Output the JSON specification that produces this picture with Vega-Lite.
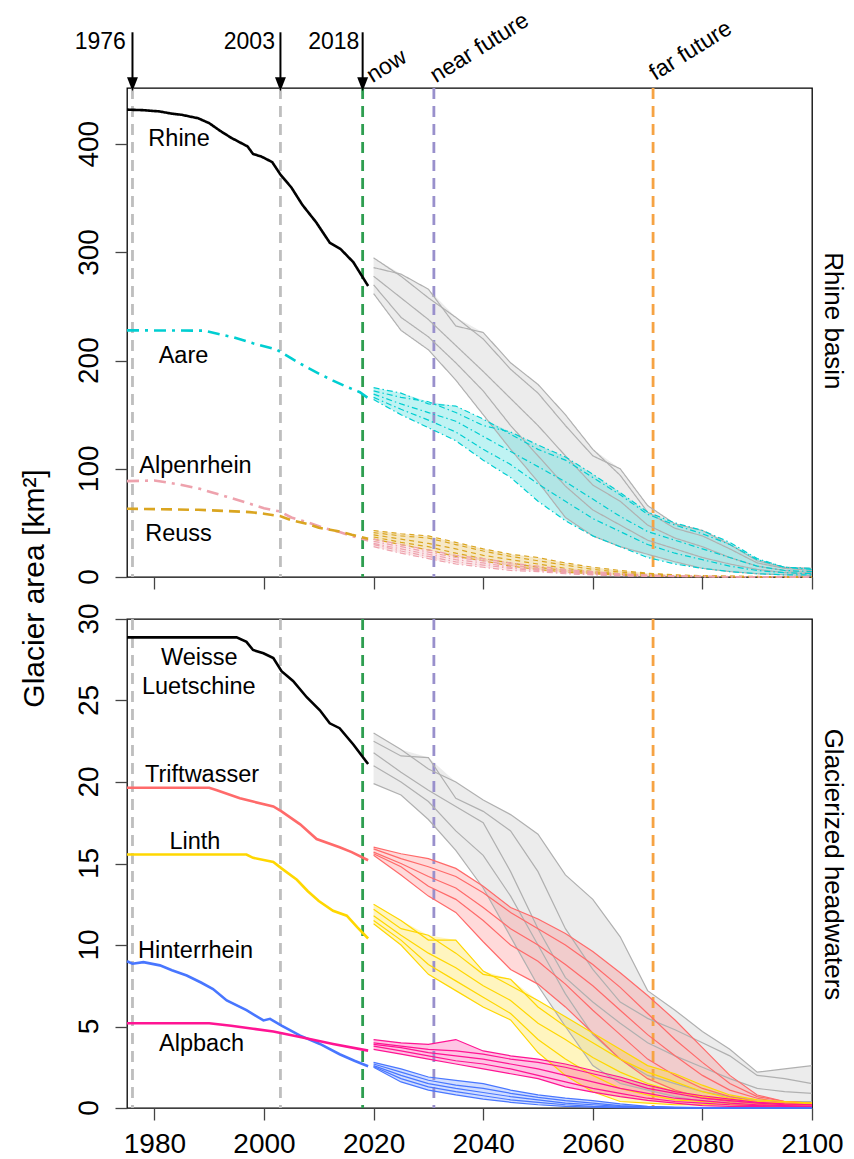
{
"$schema":"https://vega.github.io/schema/vega-lite/v6.json",
"padding":{"left":18,"top":8,"right":5,"bottom":5},
"spacing":42,
"bounds":"flush",
"config":{"font":"Liberation Sans","view":{"stroke":"#000","strokeWidth":1.3},
"axis":{"grid":false,"domain":false,"tickColor":"#444","tickWidth":1.3,"tickSize":12,"labelColor":"#000","labelFontSize":28,"labelFont":"Liberation Sans","titleColor":"#000","titleFontWeight":"normal","titleFont":"Liberation Sans"},
"text":{"font":"Liberation Sans","color":"#000"},"line":{"strokeCap":"butt"}},
"datasets":{
"vl":[{"t":1976,"c":"g"},{"t":2003,"c":"g"},{"t":2018,"c":"now"},{"t":2031,"c":"near"},{"t":2071,"c":"far"}],
"histTop":[
{"k":"Rh","t":1975,"v":432},{"k":"Rh","t":1978,"v":431.5},{"k":"Rh","t":1981,"v":430.3},{"k":"Rh","t":1983,"v":428.4},{"k":"Rh","t":1985,"v":427.2},{"k":"Rh","t":1988,"v":424},{"k":"Rh","t":1990,"v":419.5},{"k":"Rh","t":1992,"v":412.4},{"k":"Rh","t":1994,"v":406},{"k":"Rh","t":1997,"v":398},{"k":"Rh","t":1998,"v":391},{"k":"Rh","t":1999.5,"v":388.7},{"k":"Rh","t":2001.5,"v":383.5},{"k":"Rh","t":2003,"v":372},{"k":"Rh","t":2005,"v":360},{"k":"Rh","t":2007,"v":344},{"k":"Rh","t":2009.5,"v":328},{"k":"Rh","t":2012,"v":309},{"k":"Rh","t":2014,"v":303},{"k":"Rh","t":2016.3,"v":291},{"k":"Rh","t":2019,"v":269},
{"k":"Aa","t":1975,"v":228},{"k":"Aa","t":1989,"v":227.7},{"k":"Aa","t":1994.4,"v":221.6},{"k":"Aa","t":1998,"v":216},{"k":"Aa","t":2002.3,"v":210.2},{"k":"Aa","t":2005,"v":202},{"k":"Aa","t":2007.8,"v":193.9},{"k":"Aa","t":2010,"v":188},{"k":"Aa","t":2012.6,"v":181.5},{"k":"Aa","t":2015,"v":176},{"k":"Aa","t":2017.5,"v":170.8},{"k":"Aa","t":2019,"v":165.3},
{"k":"Al","t":1975,"v":88.6},{"k":"Al","t":1980,"v":89.2},{"k":"Al","t":1984,"v":86},{"k":"Al","t":1988.3,"v":81.5},{"k":"Al","t":1993,"v":74.5},{"k":"Al","t":1997.4,"v":67.7},{"k":"Al","t":2000,"v":63.5},{"k":"Al","t":2002.9,"v":60.6},{"k":"Al","t":2005,"v":55},{"k":"Al","t":2007.8,"v":50.8},{"k":"Al","t":2010.5,"v":46},{"k":"Al","t":2013.8,"v":41.5},{"k":"Al","t":2016,"v":38},{"k":"Al","t":2019,"v":33.8},
{"k":"Re","t":1975,"v":63.1},{"k":"Re","t":1988,"v":62.1},{"k":"Re","t":1997.4,"v":60},{"k":"Re","t":2000,"v":58.5},{"k":"Re","t":2002.9,"v":56.3},{"k":"Re","t":2005,"v":52.5},{"k":"Re","t":2007.8,"v":49.2},{"k":"Re","t":2010,"v":45.5},{"k":"Re","t":2013.8,"v":42.1},{"k":"Re","t":2016,"v":39},{"k":"Re","t":2019,"v":35.4}
],
"projTop":[
{"k":"Rh","m":1,"t":2020,"v":295},{"k":"Rh","m":1,"t":2025,"v":278},{"k":"Rh","m":1,"t":2030,"v":258},{"k":"Rh","m":1,"t":2035,"v":240},{"k":"Rh","m":1,"t":2040,"v":220},{"k":"Rh","m":1,"t":2045,"v":192},{"k":"Rh","m":1,"t":2050,"v":170},{"k":"Rh","m":1,"t":2055,"v":140},{"k":"Rh","m":1,"t":2060,"v":112},{"k":"Rh","m":1,"t":2065,"v":100},{"k":"Rh","m":1,"t":2070,"v":66},{"k":"Rh","m":1,"t":2075,"v":49},{"k":"Rh","m":1,"t":2080,"v":43},{"k":"Rh","m":1,"t":2085,"v":30},{"k":"Rh","m":1,"t":2090,"v":15},{"k":"Rh","m":1,"t":2095,"v":9},{"k":"Rh","m":1,"t":2100,"v":8},
{"k":"Rh","m":2,"t":2020,"v":286},{"k":"Rh","m":2,"t":2025,"v":280},{"k":"Rh","m":2,"t":2030,"v":266},{"k":"Rh","m":2,"t":2035,"v":232},{"k":"Rh","m":2,"t":2040,"v":226},{"k":"Rh","m":2,"t":2045,"v":198},{"k":"Rh","m":2,"t":2050,"v":178},{"k":"Rh","m":2,"t":2055,"v":150},{"k":"Rh","m":2,"t":2060,"v":118},{"k":"Rh","m":2,"t":2065,"v":94},{"k":"Rh","m":2,"t":2070,"v":60},{"k":"Rh","m":2,"t":2075,"v":45},{"k":"Rh","m":2,"t":2080,"v":38},{"k":"Rh","m":2,"t":2085,"v":26},{"k":"Rh","m":2,"t":2090,"v":13},{"k":"Rh","m":2,"t":2095,"v":8},{"k":"Rh","m":2,"t":2100,"v":6},
{"k":"Rh","m":3,"t":2020,"v":278},{"k":"Rh","m":3,"t":2025,"v":258},{"k":"Rh","m":3,"t":2030,"v":238},{"k":"Rh","m":3,"t":2035,"v":214},{"k":"Rh","m":3,"t":2040,"v":190},{"k":"Rh","m":3,"t":2045,"v":165},{"k":"Rh","m":3,"t":2050,"v":140},{"k":"Rh","m":3,"t":2055,"v":112},{"k":"Rh","m":3,"t":2060,"v":85},{"k":"Rh","m":3,"t":2065,"v":70},{"k":"Rh","m":3,"t":2070,"v":48},{"k":"Rh","m":3,"t":2075,"v":36},{"k":"Rh","m":3,"t":2080,"v":28},{"k":"Rh","m":3,"t":2085,"v":18},{"k":"Rh","m":3,"t":2090,"v":10},{"k":"Rh","m":3,"t":2095,"v":6},{"k":"Rh","m":3,"t":2100,"v":4},
{"k":"Rh","m":4,"t":2020,"v":270},{"k":"Rh","m":4,"t":2025,"v":240},{"k":"Rh","m":4,"t":2030,"v":222},{"k":"Rh","m":4,"t":2035,"v":198},{"k":"Rh","m":4,"t":2040,"v":172},{"k":"Rh","m":4,"t":2045,"v":140},{"k":"Rh","m":4,"t":2050,"v":112},{"k":"Rh","m":4,"t":2055,"v":84},{"k":"Rh","m":4,"t":2060,"v":62},{"k":"Rh","m":4,"t":2065,"v":48},{"k":"Rh","m":4,"t":2070,"v":34},{"k":"Rh","m":4,"t":2075,"v":26},{"k":"Rh","m":4,"t":2080,"v":18},{"k":"Rh","m":4,"t":2085,"v":12},{"k":"Rh","m":4,"t":2090,"v":7},{"k":"Rh","m":4,"t":2095,"v":4},{"k":"Rh","m":4,"t":2100,"v":3},
{"k":"Rh","m":5,"t":2020,"v":262},{"k":"Rh","m":5,"t":2025,"v":228},{"k":"Rh","m":5,"t":2030,"v":210},{"k":"Rh","m":5,"t":2035,"v":182},{"k":"Rh","m":5,"t":2040,"v":150},{"k":"Rh","m":5,"t":2045,"v":118},{"k":"Rh","m":5,"t":2050,"v":88},{"k":"Rh","m":5,"t":2055,"v":55},{"k":"Rh","m":5,"t":2060,"v":38},{"k":"Rh","m":5,"t":2065,"v":28},{"k":"Rh","m":5,"t":2070,"v":21},{"k":"Rh","m":5,"t":2075,"v":14},{"k":"Rh","m":5,"t":2080,"v":8},{"k":"Rh","m":5,"t":2085,"v":5},{"k":"Rh","m":5,"t":2090,"v":3},{"k":"Rh","m":5,"t":2095,"v":2},{"k":"Rh","m":5,"t":2100,"v":1.5},
{"k":"Aa","m":1,"t":2020,"v":175},{"k":"Aa","m":1,"t":2025,"v":170},{"k":"Aa","m":1,"t":2030,"v":160},{"k":"Aa","m":1,"t":2035,"v":158},{"k":"Aa","m":1,"t":2040,"v":146},{"k":"Aa","m":1,"t":2045,"v":132},{"k":"Aa","m":1,"t":2050,"v":118},{"k":"Aa","m":1,"t":2055,"v":108},{"k":"Aa","m":1,"t":2060,"v":92},{"k":"Aa","m":1,"t":2065,"v":76},{"k":"Aa","m":1,"t":2070,"v":58},{"k":"Aa","m":1,"t":2075,"v":48},{"k":"Aa","m":1,"t":2080,"v":40},{"k":"Aa","m":1,"t":2085,"v":30},{"k":"Aa","m":1,"t":2090,"v":16},{"k":"Aa","m":1,"t":2095,"v":9},{"k":"Aa","m":1,"t":2100,"v":8},
{"k":"Aa","m":2,"t":2020,"v":172},{"k":"Aa","m":2,"t":2025,"v":166},{"k":"Aa","m":2,"t":2030,"v":162},{"k":"Aa","m":2,"t":2035,"v":152},{"k":"Aa","m":2,"t":2040,"v":140},{"k":"Aa","m":2,"t":2045,"v":134},{"k":"Aa","m":2,"t":2050,"v":122},{"k":"Aa","m":2,"t":2055,"v":111},{"k":"Aa","m":2,"t":2060,"v":95},{"k":"Aa","m":2,"t":2065,"v":78},{"k":"Aa","m":2,"t":2070,"v":60},{"k":"Aa","m":2,"t":2075,"v":50},{"k":"Aa","m":2,"t":2080,"v":43},{"k":"Aa","m":2,"t":2085,"v":32},{"k":"Aa","m":2,"t":2090,"v":17},{"k":"Aa","m":2,"t":2095,"v":9},{"k":"Aa","m":2,"t":2100,"v":7},
{"k":"Aa","m":3,"t":2020,"v":169},{"k":"Aa","m":3,"t":2025,"v":160},{"k":"Aa","m":3,"t":2030,"v":152},{"k":"Aa","m":3,"t":2035,"v":144},{"k":"Aa","m":3,"t":2040,"v":130},{"k":"Aa","m":3,"t":2045,"v":116},{"k":"Aa","m":3,"t":2050,"v":102},{"k":"Aa","m":3,"t":2055,"v":88},{"k":"Aa","m":3,"t":2060,"v":72},{"k":"Aa","m":3,"t":2065,"v":56},{"k":"Aa","m":3,"t":2070,"v":42},{"k":"Aa","m":3,"t":2075,"v":34},{"k":"Aa","m":3,"t":2080,"v":26},{"k":"Aa","m":3,"t":2085,"v":18},{"k":"Aa","m":3,"t":2090,"v":10},{"k":"Aa","m":3,"t":2095,"v":6},{"k":"Aa","m":3,"t":2100,"v":5},
{"k":"Aa","m":4,"t":2020,"v":166},{"k":"Aa","m":4,"t":2025,"v":155},{"k":"Aa","m":4,"t":2030,"v":145},{"k":"Aa","m":4,"t":2035,"v":134},{"k":"Aa","m":4,"t":2040,"v":118},{"k":"Aa","m":4,"t":2045,"v":104},{"k":"Aa","m":4,"t":2050,"v":86},{"k":"Aa","m":4,"t":2055,"v":70},{"k":"Aa","m":4,"t":2060,"v":54},{"k":"Aa","m":4,"t":2065,"v":42},{"k":"Aa","m":4,"t":2070,"v":30},{"k":"Aa","m":4,"t":2075,"v":22},{"k":"Aa","m":4,"t":2080,"v":16},{"k":"Aa","m":4,"t":2085,"v":10},{"k":"Aa","m":4,"t":2090,"v":6},{"k":"Aa","m":4,"t":2095,"v":4},{"k":"Aa","m":4,"t":2100,"v":3},
{"k":"Aa","m":5,"t":2020,"v":164},{"k":"Aa","m":5,"t":2025,"v":150},{"k":"Aa","m":5,"t":2030,"v":138},{"k":"Aa","m":5,"t":2035,"v":126},{"k":"Aa","m":5,"t":2040,"v":108},{"k":"Aa","m":5,"t":2045,"v":92},{"k":"Aa","m":5,"t":2050,"v":70},{"k":"Aa","m":5,"t":2055,"v":52},{"k":"Aa","m":5,"t":2060,"v":38},{"k":"Aa","m":5,"t":2065,"v":28},{"k":"Aa","m":5,"t":2070,"v":18},{"k":"Aa","m":5,"t":2075,"v":12},{"k":"Aa","m":5,"t":2080,"v":8},{"k":"Aa","m":5,"t":2085,"v":5},{"k":"Aa","m":5,"t":2090,"v":3},{"k":"Aa","m":5,"t":2095,"v":2},{"k":"Aa","m":5,"t":2100,"v":2},
{"k":"Re","m":1,"t":2020,"v":43},{"k":"Re","m":1,"t":2025,"v":40},{"k":"Re","m":1,"t":2030,"v":38},{"k":"Re","m":1,"t":2035,"v":32},{"k":"Re","m":1,"t":2040,"v":26},{"k":"Re","m":1,"t":2045,"v":21},{"k":"Re","m":1,"t":2050,"v":18},{"k":"Re","m":1,"t":2055,"v":13},{"k":"Re","m":1,"t":2060,"v":9},{"k":"Re","m":1,"t":2065,"v":6},{"k":"Re","m":1,"t":2070,"v":3.5},{"k":"Re","m":1,"t":2075,"v":2},{"k":"Re","m":1,"t":2080,"v":1.2},{"k":"Re","m":1,"t":2085,"v":0.8},{"k":"Re","m":1,"t":2090,"v":0.5},{"k":"Re","m":1,"t":2095,"v":0.4},{"k":"Re","m":1,"t":2100,"v":0.3},
{"k":"Re","m":2,"t":2020,"v":41},{"k":"Re","m":2,"t":2025,"v":38},{"k":"Re","m":2,"t":2030,"v":36},{"k":"Re","m":2,"t":2035,"v":30},{"k":"Re","m":2,"t":2040,"v":24},{"k":"Re","m":2,"t":2045,"v":19},{"k":"Re","m":2,"t":2050,"v":15},{"k":"Re","m":2,"t":2055,"v":11},{"k":"Re","m":2,"t":2060,"v":7},{"k":"Re","m":2,"t":2065,"v":4.5},{"k":"Re","m":2,"t":2070,"v":3},{"k":"Re","m":2,"t":2075,"v":1.5},{"k":"Re","m":2,"t":2080,"v":1},{"k":"Re","m":2,"t":2085,"v":0.6},{"k":"Re","m":2,"t":2090,"v":0.4},{"k":"Re","m":2,"t":2095,"v":0.3},{"k":"Re","m":2,"t":2100,"v":0.2},
{"k":"Re","m":3,"t":2020,"v":39},{"k":"Re","m":3,"t":2025,"v":35},{"k":"Re","m":3,"t":2030,"v":31},{"k":"Re","m":3,"t":2035,"v":26},{"k":"Re","m":3,"t":2040,"v":20},{"k":"Re","m":3,"t":2045,"v":16},{"k":"Re","m":3,"t":2050,"v":12},{"k":"Re","m":3,"t":2055,"v":8},{"k":"Re","m":3,"t":2060,"v":5},{"k":"Re","m":3,"t":2065,"v":3},{"k":"Re","m":3,"t":2070,"v":2},{"k":"Re","m":3,"t":2075,"v":1},{"k":"Re","m":3,"t":2080,"v":0.6},{"k":"Re","m":3,"t":2085,"v":0.4},{"k":"Re","m":3,"t":2090,"v":0.3},{"k":"Re","m":3,"t":2095,"v":0.2},{"k":"Re","m":3,"t":2100,"v":0.1},
{"k":"Re","m":4,"t":2020,"v":37},{"k":"Re","m":4,"t":2025,"v":32},{"k":"Re","m":4,"t":2030,"v":28},{"k":"Re","m":4,"t":2035,"v":22},{"k":"Re","m":4,"t":2040,"v":17},{"k":"Re","m":4,"t":2045,"v":13},{"k":"Re","m":4,"t":2050,"v":9},{"k":"Re","m":4,"t":2055,"v":6},{"k":"Re","m":4,"t":2060,"v":4},{"k":"Re","m":4,"t":2065,"v":2.5},{"k":"Re","m":4,"t":2070,"v":1.5},{"k":"Re","m":4,"t":2075,"v":0.8},{"k":"Re","m":4,"t":2080,"v":0.5},{"k":"Re","m":4,"t":2085,"v":0.3},{"k":"Re","m":4,"t":2090,"v":0.2},{"k":"Re","m":4,"t":2095,"v":0.1},{"k":"Re","m":4,"t":2100,"v":0.1},
{"k":"Re","m":5,"t":2020,"v":35},{"k":"Re","m":5,"t":2025,"v":30},{"k":"Re","m":5,"t":2030,"v":25},{"k":"Re","m":5,"t":2035,"v":19},{"k":"Re","m":5,"t":2040,"v":15},{"k":"Re","m":5,"t":2045,"v":10},{"k":"Re","m":5,"t":2050,"v":7},{"k":"Re","m":5,"t":2055,"v":4.5},{"k":"Re","m":5,"t":2060,"v":3},{"k":"Re","m":5,"t":2065,"v":1.8},{"k":"Re","m":5,"t":2070,"v":1},{"k":"Re","m":5,"t":2075,"v":0.5},{"k":"Re","m":5,"t":2080,"v":0.3},{"k":"Re","m":5,"t":2085,"v":0.2},{"k":"Re","m":5,"t":2090,"v":0.1},{"k":"Re","m":5,"t":2095,"v":0.1},{"k":"Re","m":5,"t":2100,"v":0.1},
{"k":"Al","m":1,"t":2020,"v":35},{"k":"Al","m":1,"t":2025,"v":30},{"k":"Al","m":1,"t":2030,"v":25},{"k":"Al","m":1,"t":2035,"v":20},{"k":"Al","m":1,"t":2040,"v":17},{"k":"Al","m":1,"t":2045,"v":13},{"k":"Al","m":1,"t":2050,"v":10},{"k":"Al","m":1,"t":2055,"v":7},{"k":"Al","m":1,"t":2060,"v":5},{"k":"Al","m":1,"t":2065,"v":3},{"k":"Al","m":1,"t":2070,"v":2},{"k":"Al","m":1,"t":2075,"v":1.2},{"k":"Al","m":1,"t":2080,"v":0.8},{"k":"Al","m":1,"t":2085,"v":0.5},{"k":"Al","m":1,"t":2090,"v":0.3},{"k":"Al","m":1,"t":2095,"v":0.2},{"k":"Al","m":1,"t":2100,"v":0.2},
{"k":"Al","m":2,"t":2020,"v":33},{"k":"Al","m":2,"t":2025,"v":28},{"k":"Al","m":2,"t":2030,"v":23},{"k":"Al","m":2,"t":2035,"v":18},{"k":"Al","m":2,"t":2040,"v":15},{"k":"Al","m":2,"t":2045,"v":11},{"k":"Al","m":2,"t":2050,"v":8},{"k":"Al","m":2,"t":2055,"v":6},{"k":"Al","m":2,"t":2060,"v":4},{"k":"Al","m":2,"t":2065,"v":2.5},{"k":"Al","m":2,"t":2070,"v":1.5},{"k":"Al","m":2,"t":2075,"v":1},{"k":"Al","m":2,"t":2080,"v":0.6},{"k":"Al","m":2,"t":2085,"v":0.4},{"k":"Al","m":2,"t":2090,"v":0.3},{"k":"Al","m":2,"t":2095,"v":0.2},{"k":"Al","m":2,"t":2100,"v":0.1},
{"k":"Al","m":3,"t":2020,"v":31},{"k":"Al","m":3,"t":2025,"v":26},{"k":"Al","m":3,"t":2030,"v":21},{"k":"Al","m":3,"t":2035,"v":16},{"k":"Al","m":3,"t":2040,"v":13},{"k":"Al","m":3,"t":2045,"v":9},{"k":"Al","m":3,"t":2050,"v":7},{"k":"Al","m":3,"t":2055,"v":5},{"k":"Al","m":3,"t":2060,"v":3},{"k":"Al","m":3,"t":2065,"v":2},{"k":"Al","m":3,"t":2070,"v":1.2},{"k":"Al","m":3,"t":2075,"v":0.8},{"k":"Al","m":3,"t":2080,"v":0.5},{"k":"Al","m":3,"t":2085,"v":0.3},{"k":"Al","m":3,"t":2090,"v":0.2},{"k":"Al","m":3,"t":2095,"v":0.1},{"k":"Al","m":3,"t":2100,"v":0.1},
{"k":"Al","m":4,"t":2020,"v":30},{"k":"Al","m":4,"t":2025,"v":24},{"k":"Al","m":4,"t":2030,"v":19},{"k":"Al","m":4,"t":2035,"v":14},{"k":"Al","m":4,"t":2040,"v":11},{"k":"Al","m":4,"t":2045,"v":8},{"k":"Al","m":4,"t":2050,"v":6},{"k":"Al","m":4,"t":2055,"v":4},{"k":"Al","m":4,"t":2060,"v":2.5},{"k":"Al","m":4,"t":2065,"v":1.5},{"k":"Al","m":4,"t":2070,"v":1},{"k":"Al","m":4,"t":2075,"v":0.6},{"k":"Al","m":4,"t":2080,"v":0.4},{"k":"Al","m":4,"t":2085,"v":0.2},{"k":"Al","m":4,"t":2090,"v":0.1},{"k":"Al","m":4,"t":2095,"v":0.1},{"k":"Al","m":4,"t":2100,"v":0.1},
{"k":"Al","m":5,"t":2020,"v":28},{"k":"Al","m":5,"t":2025,"v":22},{"k":"Al","m":5,"t":2030,"v":17},{"k":"Al","m":5,"t":2035,"v":12},{"k":"Al","m":5,"t":2040,"v":9},{"k":"Al","m":5,"t":2045,"v":6},{"k":"Al","m":5,"t":2050,"v":5},{"k":"Al","m":5,"t":2055,"v":3},{"k":"Al","m":5,"t":2060,"v":2},{"k":"Al","m":5,"t":2065,"v":1},{"k":"Al","m":5,"t":2070,"v":0.6},{"k":"Al","m":5,"t":2075,"v":0.4},{"k":"Al","m":5,"t":2080,"v":0.2},{"k":"Al","m":5,"t":2085,"v":0.1},{"k":"Al","m":5,"t":2090,"v":0.1},{"k":"Al","m":5,"t":2095,"v":0.1},{"k":"Al","m":5,"t":2100,"v":0}
],
"histBot":[
{"k":"WL","t":1975,"v":28.87},{"k":"WL","t":1995,"v":28.87},{"k":"WL","t":1996.8,"v":28.6},{"k":"WL","t":1998,"v":28.1},{"k":"WL","t":1999.9,"v":27.9},{"k":"WL","t":2001.7,"v":27.6},{"k":"WL","t":2003.2,"v":26.8},{"k":"WL","t":2005.3,"v":26.2},{"k":"WL","t":2007.8,"v":25.2},{"k":"WL","t":2010.2,"v":24.4},{"k":"WL","t":2012,"v":23.6},{"k":"WL","t":2013.8,"v":23.3},{"k":"WL","t":2016.3,"v":22.3},{"k":"WL","t":2019,"v":21.1},
{"k":"Tr","t":1975,"v":19.65},{"k":"Tr","t":1990,"v":19.65},{"k":"Tr","t":1991.4,"v":19.5},{"k":"Tr","t":1995.6,"v":19.0},{"k":"Tr","t":1998,"v":18.8},{"k":"Tr","t":2001.7,"v":18.5},{"k":"Tr","t":2003.2,"v":18.2},{"k":"Tr","t":2006.6,"v":17.4},{"k":"Tr","t":2009.6,"v":16.5},{"k":"Tr","t":2013.8,"v":16.0},{"k":"Tr","t":2016,"v":15.7},{"k":"Tr","t":2019,"v":15.2},
{"k":"Li","t":1975,"v":15.55},{"k":"Li","t":1996.8,"v":15.55},{"k":"Li","t":1998,"v":15.35},{"k":"Li","t":2001.7,"v":15.1},{"k":"Li","t":2003.2,"v":14.7},{"k":"Li","t":2006,"v":14.0},{"k":"Li","t":2008,"v":13.3},{"k":"Li","t":2010,"v":12.7},{"k":"Li","t":2012.6,"v":12.1},{"k":"Li","t":2015.1,"v":11.8},{"k":"Li","t":2017,"v":11.1},{"k":"Li","t":2019,"v":10.4},
{"k":"Hi","t":1975,"v":9.0},{"k":"Hi","t":1976,"v":8.85},{"k":"Hi","t":1978,"v":8.95},{"k":"Hi","t":1981,"v":8.75},{"k":"Hi","t":1983.2,"v":8.45},{"k":"Hi","t":1985.9,"v":8.13},{"k":"Hi","t":1988.5,"v":7.7},{"k":"Hi","t":1990.7,"v":7.3},{"k":"Hi","t":1993.2,"v":6.6},{"k":"Hi","t":1996.8,"v":6.0},{"k":"Hi","t":1999.9,"v":5.37},{"k":"Hi","t":2001.1,"v":5.47},{"k":"Hi","t":2003.2,"v":5.06},{"k":"Hi","t":2006.6,"v":4.44},{"k":"Hi","t":2010.2,"v":3.93},{"k":"Hi","t":2013.8,"v":3.3},{"k":"Hi","t":2016.5,"v":2.9},{"k":"Hi","t":2019,"v":2.56},
{"k":"Ap","t":1975,"v":5.2},{"k":"Ap","t":1990,"v":5.2},{"k":"Ap","t":1994,"v":5.05},{"k":"Ap","t":1998,"v":4.86},{"k":"Ap","t":2001.7,"v":4.69},{"k":"Ap","t":2006.6,"v":4.35},{"k":"Ap","t":2012.6,"v":3.93},{"k":"Ap","t":2019,"v":3.52}
],
"projBot":[
{"k":"WL","m":1,"t":2020,"v":23.0},{"k":"WL","m":1,"t":2025,"v":22.0},{"k":"WL","m":1,"t":2030,"v":20.8},{"k":"WL","m":1,"t":2035,"v":20.0},{"k":"WL","m":1,"t":2040,"v":18.9},{"k":"WL","m":1,"t":2045,"v":18.0},{"k":"WL","m":1,"t":2050,"v":16.8},{"k":"WL","m":1,"t":2055,"v":14.3},{"k":"WL","m":1,"t":2060,"v":12.8},{"k":"WL","m":1,"t":2065,"v":10.5},{"k":"WL","m":1,"t":2070,"v":7.2},{"k":"WL","m":1,"t":2075,"v":6.0},{"k":"WL","m":1,"t":2080,"v":4.7},{"k":"WL","m":1,"t":2085,"v":3.6},{"k":"WL","m":1,"t":2090,"v":2.2},{"k":"WL","m":1,"t":2095,"v":2.4},{"k":"WL","m":1,"t":2100,"v":2.6},
{"k":"WL","m":2,"t":2020,"v":22.5},{"k":"WL","m":2,"t":2025,"v":21.6},{"k":"WL","m":2,"t":2030,"v":21.5},{"k":"WL","m":2,"t":2035,"v":19.0},{"k":"WL","m":2,"t":2040,"v":18.2},{"k":"WL","m":2,"t":2045,"v":17.0},{"k":"WL","m":2,"t":2050,"v":14.5},{"k":"WL","m":2,"t":2055,"v":11.0},{"k":"WL","m":2,"t":2060,"v":8.5},{"k":"WL","m":2,"t":2065,"v":6.5},{"k":"WL","m":2,"t":2070,"v":5.5},{"k":"WL","m":2,"t":2075,"v":4.8},{"k":"WL","m":2,"t":2080,"v":4.0},{"k":"WL","m":2,"t":2085,"v":3.2},{"k":"WL","m":2,"t":2090,"v":2.0},{"k":"WL","m":2,"t":2095,"v":1.8},{"k":"WL","m":2,"t":2100,"v":1.5},
{"k":"WL","m":3,"t":2020,"v":21.8},{"k":"WL","m":3,"t":2025,"v":20.6},{"k":"WL","m":3,"t":2030,"v":19.5},{"k":"WL","m":3,"t":2035,"v":18.5},{"k":"WL","m":3,"t":2040,"v":17.5},{"k":"WL","m":3,"t":2045,"v":14.5},{"k":"WL","m":3,"t":2050,"v":11.0},{"k":"WL","m":3,"t":2055,"v":8.0},{"k":"WL","m":3,"t":2060,"v":6.5},{"k":"WL","m":3,"t":2065,"v":5.2},{"k":"WL","m":3,"t":2070,"v":4.0},{"k":"WL","m":3,"t":2075,"v":3.2},{"k":"WL","m":3,"t":2080,"v":2.5},{"k":"WL","m":3,"t":2085,"v":1.8},{"k":"WL","m":3,"t":2090,"v":1.2},{"k":"WL","m":3,"t":2095,"v":1.0},{"k":"WL","m":3,"t":2100,"v":0.9},
{"k":"WL","m":4,"t":2020,"v":21.0},{"k":"WL","m":4,"t":2025,"v":20.0},{"k":"WL","m":4,"t":2030,"v":18.8},{"k":"WL","m":4,"t":2035,"v":17.0},{"k":"WL","m":4,"t":2040,"v":15.5},{"k":"WL","m":4,"t":2045,"v":13.0},{"k":"WL","m":4,"t":2050,"v":10.0},{"k":"WL","m":4,"t":2055,"v":7.0},{"k":"WL","m":4,"t":2060,"v":4.5},{"k":"WL","m":4,"t":2065,"v":3.0},{"k":"WL","m":4,"t":2070,"v":2.0},{"k":"WL","m":4,"t":2075,"v":1.5},{"k":"WL","m":4,"t":2080,"v":1.0},{"k":"WL","m":4,"t":2085,"v":0.7},{"k":"WL","m":4,"t":2090,"v":0.5},{"k":"WL","m":4,"t":2095,"v":0.4},{"k":"WL","m":4,"t":2100,"v":0.4},
{"k":"WL","m":5,"t":2020,"v":19.9},{"k":"WL","m":5,"t":2025,"v":19.2},{"k":"WL","m":5,"t":2030,"v":17.7},{"k":"WL","m":5,"t":2035,"v":15.8},{"k":"WL","m":5,"t":2040,"v":13.5},{"k":"WL","m":5,"t":2045,"v":10.5},{"k":"WL","m":5,"t":2050,"v":7.5},{"k":"WL","m":5,"t":2055,"v":5.0},{"k":"WL","m":5,"t":2060,"v":2.6},{"k":"WL","m":5,"t":2065,"v":1.5},{"k":"WL","m":5,"t":2070,"v":1.1},{"k":"WL","m":5,"t":2075,"v":0.7},{"k":"WL","m":5,"t":2080,"v":0.4},{"k":"WL","m":5,"t":2085,"v":0.3},{"k":"WL","m":5,"t":2090,"v":0.2},{"k":"WL","m":5,"t":2095,"v":0.2},{"k":"WL","m":5,"t":2100,"v":0.2},
{"k":"Tr","m":1,"t":2020,"v":16.0},{"k":"Tr","m":1,"t":2025,"v":15.6},{"k":"Tr","m":1,"t":2030,"v":15.3},{"k":"Tr","m":1,"t":2035,"v":14.7},{"k":"Tr","m":1,"t":2040,"v":13.6},{"k":"Tr","m":1,"t":2045,"v":12.3},{"k":"Tr","m":1,"t":2050,"v":11.6},{"k":"Tr","m":1,"t":2055,"v":10.7},{"k":"Tr","m":1,"t":2060,"v":9.6},{"k":"Tr","m":1,"t":2065,"v":8.3},{"k":"Tr","m":1,"t":2070,"v":6.9},{"k":"Tr","m":1,"t":2075,"v":5.4},{"k":"Tr","m":1,"t":2080,"v":3.7},{"k":"Tr","m":1,"t":2085,"v":2.0},{"k":"Tr","m":1,"t":2090,"v":0.8},{"k":"Tr","m":1,"t":2095,"v":0.4},{"k":"Tr","m":1,"t":2100,"v":0.3},
{"k":"Tr","m":2,"t":2020,"v":15.9},{"k":"Tr","m":2,"t":2025,"v":15.3},{"k":"Tr","m":2,"t":2030,"v":14.8},{"k":"Tr","m":2,"t":2035,"v":14.2},{"k":"Tr","m":2,"t":2040,"v":13.2},{"k":"Tr","m":2,"t":2045,"v":12.0},{"k":"Tr","m":2,"t":2050,"v":11.0},{"k":"Tr","m":2,"t":2055,"v":10.0},{"k":"Tr","m":2,"t":2060,"v":8.8},{"k":"Tr","m":2,"t":2065,"v":7.4},{"k":"Tr","m":2,"t":2070,"v":5.8},{"k":"Tr","m":2,"t":2075,"v":4.2},{"k":"Tr","m":2,"t":2080,"v":2.8},{"k":"Tr","m":2,"t":2085,"v":1.5},{"k":"Tr","m":2,"t":2090,"v":0.7},{"k":"Tr","m":2,"t":2095,"v":0.4},{"k":"Tr","m":2,"t":2100,"v":0.3},
{"k":"Tr","m":3,"t":2020,"v":15.7},{"k":"Tr","m":3,"t":2025,"v":15.0},{"k":"Tr","m":3,"t":2030,"v":14.2},{"k":"Tr","m":3,"t":2035,"v":13.5},{"k":"Tr","m":3,"t":2040,"v":12.3},{"k":"Tr","m":3,"t":2045,"v":11.0},{"k":"Tr","m":3,"t":2050,"v":10.0},{"k":"Tr","m":3,"t":2055,"v":8.8},{"k":"Tr","m":3,"t":2060,"v":7.5},{"k":"Tr","m":3,"t":2065,"v":6.0},{"k":"Tr","m":3,"t":2070,"v":4.5},{"k":"Tr","m":3,"t":2075,"v":3.2},{"k":"Tr","m":3,"t":2080,"v":2.0},{"k":"Tr","m":3,"t":2085,"v":1.1},{"k":"Tr","m":3,"t":2090,"v":0.6},{"k":"Tr","m":3,"t":2095,"v":0.3},{"k":"Tr","m":3,"t":2100,"v":0.2},
{"k":"Tr","m":4,"t":2020,"v":15.6},{"k":"Tr","m":4,"t":2025,"v":14.8},{"k":"Tr","m":4,"t":2030,"v":13.6},{"k":"Tr","m":4,"t":2035,"v":12.8},{"k":"Tr","m":4,"t":2040,"v":11.5},{"k":"Tr","m":4,"t":2045,"v":10.0},{"k":"Tr","m":4,"t":2050,"v":9.0},{"k":"Tr","m":4,"t":2055,"v":7.6},{"k":"Tr","m":4,"t":2060,"v":6.0},{"k":"Tr","m":4,"t":2065,"v":4.5},{"k":"Tr","m":4,"t":2070,"v":3.0},{"k":"Tr","m":4,"t":2075,"v":2.0},{"k":"Tr","m":4,"t":2080,"v":1.2},{"k":"Tr","m":4,"t":2085,"v":0.7},{"k":"Tr","m":4,"t":2090,"v":0.4},{"k":"Tr","m":4,"t":2095,"v":0.3},{"k":"Tr","m":4,"t":2100,"v":0.2},
{"k":"Tr","m":5,"t":2020,"v":15.5},{"k":"Tr","m":5,"t":2025,"v":14.3},{"k":"Tr","m":5,"t":2030,"v":13.0},{"k":"Tr","m":5,"t":2035,"v":12.0},{"k":"Tr","m":5,"t":2040,"v":10.2},{"k":"Tr","m":5,"t":2045,"v":8.5},{"k":"Tr","m":5,"t":2050,"v":7.6},{"k":"Tr","m":5,"t":2055,"v":6.2},{"k":"Tr","m":5,"t":2060,"v":4.6},{"k":"Tr","m":5,"t":2065,"v":3.0},{"k":"Tr","m":5,"t":2070,"v":1.8},{"k":"Tr","m":5,"t":2075,"v":1.1},{"k":"Tr","m":5,"t":2080,"v":0.6},{"k":"Tr","m":5,"t":2085,"v":0.4},{"k":"Tr","m":5,"t":2090,"v":0.3},{"k":"Tr","m":5,"t":2095,"v":0.2},{"k":"Tr","m":5,"t":2100,"v":0.2},
{"k":"Li","m":1,"t":2020,"v":12.5},{"k":"Li","m":1,"t":2025,"v":11.5},{"k":"Li","m":1,"t":2030,"v":10.3},{"k":"Li","m":1,"t":2035,"v":10.3},{"k":"Li","m":1,"t":2040,"v":8.4},{"k":"Li","m":1,"t":2045,"v":7.5},{"k":"Li","m":1,"t":2050,"v":6.6},{"k":"Li","m":1,"t":2055,"v":5.6},{"k":"Li","m":1,"t":2060,"v":4.6},{"k":"Li","m":1,"t":2065,"v":3.6},{"k":"Li","m":1,"t":2070,"v":2.6},{"k":"Li","m":1,"t":2075,"v":2.1},{"k":"Li","m":1,"t":2080,"v":1.4},{"k":"Li","m":1,"t":2085,"v":0.8},{"k":"Li","m":1,"t":2090,"v":0.5},{"k":"Li","m":1,"t":2095,"v":0.4},{"k":"Li","m":1,"t":2100,"v":0.3},
{"k":"Li","m":2,"t":2020,"v":12.2},{"k":"Li","m":2,"t":2025,"v":11.0},{"k":"Li","m":2,"t":2030,"v":10.6},{"k":"Li","m":2,"t":2035,"v":9.5},{"k":"Li","m":2,"t":2040,"v":8.2},{"k":"Li","m":2,"t":2045,"v":7.9},{"k":"Li","m":2,"t":2050,"v":6.2},{"k":"Li","m":2,"t":2055,"v":5.0},{"k":"Li","m":2,"t":2060,"v":4.0},{"k":"Li","m":2,"t":2065,"v":3.0},{"k":"Li","m":2,"t":2070,"v":2.2},{"k":"Li","m":2,"t":2075,"v":1.6},{"k":"Li","m":2,"t":2080,"v":1.0},{"k":"Li","m":2,"t":2085,"v":0.6},{"k":"Li","m":2,"t":2090,"v":0.4},{"k":"Li","m":2,"t":2095,"v":0.3},{"k":"Li","m":2,"t":2100,"v":0.3},
{"k":"Li","m":3,"t":2020,"v":11.8},{"k":"Li","m":3,"t":2025,"v":10.6},{"k":"Li","m":3,"t":2030,"v":9.5},{"k":"Li","m":3,"t":2035,"v":8.6},{"k":"Li","m":3,"t":2040,"v":7.5},{"k":"Li","m":3,"t":2045,"v":6.6},{"k":"Li","m":3,"t":2050,"v":5.2},{"k":"Li","m":3,"t":2055,"v":4.2},{"k":"Li","m":3,"t":2060,"v":3.1},{"k":"Li","m":3,"t":2065,"v":2.2},{"k":"Li","m":3,"t":2070,"v":1.5},{"k":"Li","m":3,"t":2075,"v":1.0},{"k":"Li","m":3,"t":2080,"v":0.7},{"k":"Li","m":3,"t":2085,"v":0.5},{"k":"Li","m":3,"t":2090,"v":0.3},{"k":"Li","m":3,"t":2095,"v":0.2},{"k":"Li","m":3,"t":2100,"v":0.2},
{"k":"Li","m":4,"t":2020,"v":11.5},{"k":"Li","m":4,"t":2025,"v":10.3},{"k":"Li","m":4,"t":2030,"v":8.8},{"k":"Li","m":4,"t":2035,"v":7.8},{"k":"Li","m":4,"t":2040,"v":6.8},{"k":"Li","m":4,"t":2045,"v":5.8},{"k":"Li","m":4,"t":2050,"v":4.2},{"k":"Li","m":4,"t":2055,"v":3.0},{"k":"Li","m":4,"t":2060,"v":2.0},{"k":"Li","m":4,"t":2065,"v":1.2},{"k":"Li","m":4,"t":2070,"v":0.8},{"k":"Li","m":4,"t":2075,"v":0.5},{"k":"Li","m":4,"t":2080,"v":0.4},{"k":"Li","m":4,"t":2085,"v":0.3},{"k":"Li","m":4,"t":2090,"v":0.2},{"k":"Li","m":4,"t":2095,"v":0.2},{"k":"Li","m":4,"t":2100,"v":0.1},
{"k":"Li","m":5,"t":2020,"v":11.3},{"k":"Li","m":5,"t":2025,"v":10.0},{"k":"Li","m":5,"t":2030,"v":8.2},{"k":"Li","m":5,"t":2035,"v":7.2},{"k":"Li","m":5,"t":2040,"v":6.2},{"k":"Li","m":5,"t":2045,"v":5.4},{"k":"Li","m":5,"t":2050,"v":3.4},{"k":"Li","m":5,"t":2055,"v":2.0},{"k":"Li","m":5,"t":2060,"v":1.0},{"k":"Li","m":5,"t":2065,"v":0.4},{"k":"Li","m":5,"t":2070,"v":0.3},{"k":"Li","m":5,"t":2075,"v":0.2},{"k":"Li","m":5,"t":2080,"v":0.2},{"k":"Li","m":5,"t":2085,"v":0.2},{"k":"Li","m":5,"t":2090,"v":0.1},{"k":"Li","m":5,"t":2095,"v":0.1},{"k":"Li","m":5,"t":2100,"v":0.1},
{"k":"Ap","m":1,"t":2020,"v":4.2},{"k":"Ap","m":1,"t":2025,"v":4.0},{"k":"Ap","m":1,"t":2030,"v":3.9},{"k":"Ap","m":1,"t":2035,"v":4.2},{"k":"Ap","m":1,"t":2040,"v":3.5},{"k":"Ap","m":1,"t":2045,"v":3.2},{"k":"Ap","m":1,"t":2050,"v":3.0},{"k":"Ap","m":1,"t":2055,"v":2.7},{"k":"Ap","m":1,"t":2060,"v":2.3},{"k":"Ap","m":1,"t":2065,"v":1.9},{"k":"Ap","m":1,"t":2070,"v":1.4},{"k":"Ap","m":1,"t":2075,"v":1.0},{"k":"Ap","m":1,"t":2080,"v":0.75},{"k":"Ap","m":1,"t":2085,"v":0.55},{"k":"Ap","m":1,"t":2090,"v":0.35},{"k":"Ap","m":1,"t":2095,"v":0.25},{"k":"Ap","m":1,"t":2100,"v":0.2},
{"k":"Ap","m":2,"t":2020,"v":4.0},{"k":"Ap","m":2,"t":2025,"v":3.8},{"k":"Ap","m":2,"t":2030,"v":3.6},{"k":"Ap","m":2,"t":2035,"v":3.5},{"k":"Ap","m":2,"t":2040,"v":3.3},{"k":"Ap","m":2,"t":2045,"v":3.0},{"k":"Ap","m":2,"t":2050,"v":2.8},{"k":"Ap","m":2,"t":2055,"v":2.5},{"k":"Ap","m":2,"t":2060,"v":2.1},{"k":"Ap","m":2,"t":2065,"v":1.7},{"k":"Ap","m":2,"t":2070,"v":1.2},{"k":"Ap","m":2,"t":2075,"v":0.9},{"k":"Ap","m":2,"t":2080,"v":0.6},{"k":"Ap","m":2,"t":2085,"v":0.45},{"k":"Ap","m":2,"t":2090,"v":0.3},{"k":"Ap","m":2,"t":2095,"v":0.2},{"k":"Ap","m":2,"t":2100,"v":0.2},
{"k":"Ap","m":3,"t":2020,"v":3.9},{"k":"Ap","m":3,"t":2025,"v":3.7},{"k":"Ap","m":3,"t":2030,"v":3.4},{"k":"Ap","m":3,"t":2035,"v":3.2},{"k":"Ap","m":3,"t":2040,"v":3.0},{"k":"Ap","m":3,"t":2045,"v":2.7},{"k":"Ap","m":3,"t":2050,"v":2.4},{"k":"Ap","m":3,"t":2055,"v":2.0},{"k":"Ap","m":3,"t":2060,"v":1.6},{"k":"Ap","m":3,"t":2065,"v":1.2},{"k":"Ap","m":3,"t":2070,"v":0.9},{"k":"Ap","m":3,"t":2075,"v":0.6},{"k":"Ap","m":3,"t":2080,"v":0.45},{"k":"Ap","m":3,"t":2085,"v":0.3},{"k":"Ap","m":3,"t":2090,"v":0.2},{"k":"Ap","m":3,"t":2095,"v":0.15},{"k":"Ap","m":3,"t":2100,"v":0.1},
{"k":"Ap","m":4,"t":2020,"v":3.8},{"k":"Ap","m":4,"t":2025,"v":3.5},{"k":"Ap","m":4,"t":2030,"v":3.2},{"k":"Ap","m":4,"t":2035,"v":2.9},{"k":"Ap","m":4,"t":2040,"v":2.7},{"k":"Ap","m":4,"t":2045,"v":2.4},{"k":"Ap","m":4,"t":2050,"v":2.0},{"k":"Ap","m":4,"t":2055,"v":1.6},{"k":"Ap","m":4,"t":2060,"v":1.2},{"k":"Ap","m":4,"t":2065,"v":0.9},{"k":"Ap","m":4,"t":2070,"v":0.6},{"k":"Ap","m":4,"t":2075,"v":0.4},{"k":"Ap","m":4,"t":2080,"v":0.3},{"k":"Ap","m":4,"t":2085,"v":0.2},{"k":"Ap","m":4,"t":2090,"v":0.15},{"k":"Ap","m":4,"t":2095,"v":0.1},{"k":"Ap","m":4,"t":2100,"v":0.1},
{"k":"Ap","m":5,"t":2020,"v":3.6},{"k":"Ap","m":5,"t":2025,"v":3.3},{"k":"Ap","m":5,"t":2030,"v":3.0},{"k":"Ap","m":5,"t":2035,"v":2.7},{"k":"Ap","m":5,"t":2040,"v":2.4},{"k":"Ap","m":5,"t":2045,"v":2.1},{"k":"Ap","m":5,"t":2050,"v":1.8},{"k":"Ap","m":5,"t":2055,"v":1.3},{"k":"Ap","m":5,"t":2060,"v":0.97},{"k":"Ap","m":5,"t":2065,"v":0.7},{"k":"Ap","m":5,"t":2070,"v":0.47},{"k":"Ap","m":5,"t":2075,"v":0.3},{"k":"Ap","m":5,"t":2080,"v":0.15},{"k":"Ap","m":5,"t":2085,"v":0.1},{"k":"Ap","m":5,"t":2090,"v":0.1},{"k":"Ap","m":5,"t":2095,"v":0.05},{"k":"Ap","m":5,"t":2100,"v":0.05},
{"k":"Hi","m":1,"t":2020,"v":2.8},{"k":"Hi","m":1,"t":2025,"v":2.4},{"k":"Hi","m":1,"t":2030,"v":1.9},{"k":"Hi","m":1,"t":2035,"v":1.7},{"k":"Hi","m":1,"t":2040,"v":1.5},{"k":"Hi","m":1,"t":2045,"v":1.1},{"k":"Hi","m":1,"t":2050,"v":0.8},{"k":"Hi","m":1,"t":2055,"v":0.6},{"k":"Hi","m":1,"t":2060,"v":0.45},{"k":"Hi","m":1,"t":2065,"v":0.25},{"k":"Hi","m":1,"t":2070,"v":0.1},{"k":"Hi","m":1,"t":2075,"v":0.05},{"k":"Hi","m":1,"t":2080,"v":0.02},{"k":"Hi","m":1,"t":2085,"v":0},{"k":"Hi","m":1,"t":2090,"v":0},{"k":"Hi","m":1,"t":2095,"v":0},{"k":"Hi","m":1,"t":2100,"v":0},
{"k":"Hi","m":2,"t":2020,"v":2.7},{"k":"Hi","m":2,"t":2025,"v":2.2},{"k":"Hi","m":2,"t":2030,"v":1.7},{"k":"Hi","m":2,"t":2035,"v":1.4},{"k":"Hi","m":2,"t":2040,"v":1.2},{"k":"Hi","m":2,"t":2045,"v":0.9},{"k":"Hi","m":2,"t":2050,"v":0.65},{"k":"Hi","m":2,"t":2055,"v":0.45},{"k":"Hi","m":2,"t":2060,"v":0.3},{"k":"Hi","m":2,"t":2065,"v":0.15},{"k":"Hi","m":2,"t":2070,"v":0.07},{"k":"Hi","m":2,"t":2075,"v":0.03},{"k":"Hi","m":2,"t":2080,"v":0},{"k":"Hi","m":2,"t":2085,"v":0},{"k":"Hi","m":2,"t":2090,"v":0},{"k":"Hi","m":2,"t":2095,"v":0},{"k":"Hi","m":2,"t":2100,"v":0},
{"k":"Hi","m":3,"t":2020,"v":2.6},{"k":"Hi","m":3,"t":2025,"v":2.0},{"k":"Hi","m":3,"t":2030,"v":1.5},{"k":"Hi","m":3,"t":2035,"v":1.2},{"k":"Hi","m":3,"t":2040,"v":0.95},{"k":"Hi","m":3,"t":2045,"v":0.7},{"k":"Hi","m":3,"t":2050,"v":0.5},{"k":"Hi","m":3,"t":2055,"v":0.3},{"k":"Hi","m":3,"t":2060,"v":0.2},{"k":"Hi","m":3,"t":2065,"v":0.1},{"k":"Hi","m":3,"t":2070,"v":0.05},{"k":"Hi","m":3,"t":2075,"v":0.02},{"k":"Hi","m":3,"t":2080,"v":0},{"k":"Hi","m":3,"t":2085,"v":0},{"k":"Hi","m":3,"t":2090,"v":0},{"k":"Hi","m":3,"t":2095,"v":0},{"k":"Hi","m":3,"t":2100,"v":0},
{"k":"Hi","m":4,"t":2020,"v":2.55},{"k":"Hi","m":4,"t":2025,"v":1.8},{"k":"Hi","m":4,"t":2030,"v":1.3},{"k":"Hi","m":4,"t":2035,"v":1.0},{"k":"Hi","m":4,"t":2040,"v":0.75},{"k":"Hi","m":4,"t":2045,"v":0.5},{"k":"Hi","m":4,"t":2050,"v":0.35},{"k":"Hi","m":4,"t":2055,"v":0.2},{"k":"Hi","m":4,"t":2060,"v":0.1},{"k":"Hi","m":4,"t":2065,"v":0.05},{"k":"Hi","m":4,"t":2070,"v":0.02},{"k":"Hi","m":4,"t":2075,"v":0},{"k":"Hi","m":4,"t":2080,"v":0},{"k":"Hi","m":4,"t":2085,"v":0},{"k":"Hi","m":4,"t":2090,"v":0},{"k":"Hi","m":4,"t":2095,"v":0},{"k":"Hi","m":4,"t":2100,"v":0},
{"k":"Hi","m":5,"t":2020,"v":2.5},{"k":"Hi","m":5,"t":2025,"v":1.6},{"k":"Hi","m":5,"t":2030,"v":1.1},{"k":"Hi","m":5,"t":2035,"v":0.8},{"k":"Hi","m":5,"t":2040,"v":0.55},{"k":"Hi","m":5,"t":2045,"v":0.35},{"k":"Hi","m":5,"t":2050,"v":0.2},{"k":"Hi","m":5,"t":2055,"v":0.1},{"k":"Hi","m":5,"t":2060,"v":0.05},{"k":"Hi","m":5,"t":2065,"v":0.02},{"k":"Hi","m":5,"t":2070,"v":0},{"k":"Hi","m":5,"t":2075,"v":0},{"k":"Hi","m":5,"t":2080,"v":0},{"k":"Hi","m":5,"t":2085,"v":0},{"k":"Hi","m":5,"t":2090,"v":0},{"k":"Hi","m":5,"t":2095,"v":0},{"k":"Hi","m":5,"t":2100,"v":0}
]
},
"vconcat":[
{
"width":685,"height":489,
"encoding":{"x":{"field":"t","type":"quantitative","scale":{"domain":[1975,2100],"nice":false,"zero":false},"axis":{"values":[1980,2000,2020,2040,2060,2080,2100],"labels":false,"title":null}}},
"layer":[
{"data":{"name":"projTop"},"mark":{"type":"area","opacity":0.25},
"encoding":{"y":{"aggregate":"min","field":"v","type":"quantitative","scale":{"domain":[0,452],"nice":false,"zero":false},
"axis":{"values":[0,100,200,300,400],"labels":false,"title":"Glacier area [km²]","titleFontSize":30,"titleAngle":270,"titleAlign":"center","titleBaseline":"alphabetic","titleX":-84,"titleY":500}},
"y2":{"aggregate":"max","field":"v"},
"color":{"field":"k","type":"nominal","scale":{"domain":["Rh","Aa","Re","Al"],"range":["#B4B4B4","#00CED1","#DAA520","#EEA2AD"]},"legend":null}}},
{"data":{"name":"vl"},"mark":{"type":"rule","strokeWidth":2.8,"strokeDash":[11,7]},
"encoding":{"color":{"field":"c","type":"nominal","scale":{"domain":["g","now","near","far"],"range":["#BEBEBE","#2E9E50","#9990CC","#F6A343"]},"legend":null}}},
{"data":{"name":"projTop"},"mark":{"type":"line","strokeWidth":1.2},
"encoding":{"y":{"field":"v","type":"quantitative","scale":{"domain":[0,452],"nice":false,"zero":false},
"axis":{"values":[0,100,200,300,400],"labels":false,"title":"Glacier area [km²]","titleFontSize":30,"titleAngle":270,"titleAlign":"center","titleBaseline":"alphabetic","titleX":-84,"titleY":500}},
"detail":{"field":"m"},
"color":{"field":"k","type":"nominal","scale":{"domain":["Rh","Aa","Re","Al"],"range":["#B0B0B0","#00CED1","#DAA520","#EEA2AD"]},"legend":null},
"strokeDash":{"field":"k","type":"nominal","scale":{"domain":["Rh","Aa","Re","Al"],"range":[[1,0],[6,3,1.5,3],[5,4],[6,3,1.5,3]]},"legend":null}}},
{"data":{"name":"histTop"},"mark":{"type":"line","strokeWidth":2.6},
"encoding":{"y":{"field":"v","type":"quantitative","scale":{"domain":[0,452],"nice":false,"zero":false},
"axis":{"values":[0,100,200,300,400],"labels":false,"title":"Glacier area [km²]","titleFontSize":30,"titleAngle":270,"titleAlign":"center","titleBaseline":"alphabetic","titleX":-84,"titleY":500}},
"color":{"field":"k","type":"nominal","scale":{"domain":["Rh","Aa","Re","Al"],"range":["#000000","#00CED1","#DAA520","#EEA2AD"]},"legend":null},
"strokeDash":{"field":"k","type":"nominal","scale":{"domain":["Rh","Aa","Re","Al"],"range":[[1,0],[12,6,3,6],[11,6],[12,6,3,6]]},"legend":null}}},
{"data":{"values":[{"t":1969.7,"v":0,"s":"0"},{"t":1969.7,"v":100,"s":"100"},{"t":1969.7,"v":200,"s":"200"},{"t":1969.7,"v":300,"s":"300"},{"t":1969.7,"v":400,"s":"400"}]},
"mark":{"type":"text","fontSize":28,"angle":269.9,"align":"center","baseline":"alphabetic"},
"encoding":{"y":{"field":"v","type":"quantitative","scale":{"domain":[0,452],"nice":false,"zero":false},
"axis":{"values":[0,100,200,300,400],"labels":false,"title":"Glacier area [km²]","titleFontSize":30,"titleAngle":270,"titleAlign":"center","titleBaseline":"alphabetic","titleX":-84,"titleY":500}},"text":{"field":"s"}}},
{"data":{"values":[{"t":1984.5,"v":398.2,"s":"Rhine"},{"t":1985.3,"v":197.9,"s":"Aare"},{"t":1987.5,"v":96.3,"s":"Alpenrhein"},{"t":1984.4,"v":33.2,"s":"Reuss"}]},
"mark":{"type":"text","fontSize":23.5,"align":"center","baseline":"alphabetic"},
"encoding":{"y":{"field":"v","type":"quantitative","scale":{"domain":[0,452],"nice":false,"zero":false},
"axis":{"values":[0,100,200,300,400],"labels":false,"title":"Glacier area [km²]","titleFontSize":30,"titleAngle":270,"titleAlign":"center","titleBaseline":"alphabetic","titleX":-84,"titleY":500}},"text":{"field":"s"}}},
{"data":{"values":[{"t":1976,"v":503.5,"v2":455.4},{"t":2003,"v":503.5,"v2":455.4},{"t":2018,"v":503.5,"v2":455.4}]},
"mark":{"type":"rule","strokeWidth":2,"color":"#000"},
"encoding":{"y":{"field":"v","type":"quantitative","scale":{"domain":[0,452],"nice":false,"zero":false},
"axis":{"values":[0,100,200,300,400],"labels":false,"title":"Glacier area [km²]","titleFontSize":30,"titleAngle":270,"titleAlign":"center","titleBaseline":"alphabetic","titleX":-84,"titleY":500}},"y2":{"field":"v2"}}},
{"data":{"values":[{"t":1976,"v":455.4},{"t":2003,"v":455.4},{"t":2018,"v":455.4}]},
"mark":{"type":"point","shape":"M -0.78 -1 L 0.78 -1 L 0 1 Z","size":196,"filled":true,"color":"#000","opacity":1},
"encoding":{"y":{"field":"v","type":"quantitative","scale":{"domain":[0,452],"nice":false,"zero":false},
"axis":{"values":[0,100,200,300,400],"labels":false,"title":"Glacier area [km²]","titleFontSize":30,"titleAngle":270,"titleAlign":"center","titleBaseline":"alphabetic","titleX":-84,"titleY":500}}}},
{"data":{"values":[{"t":1974.8,"v":487.8,"s":"1976"},{"t":2002.0,"v":487.8,"s":"2003"},{"t":2017.4,"v":487.8,"s":"2018"}]},
"mark":{"type":"text","fontSize":23,"align":"right","baseline":"alphabetic"},
"encoding":{"y":{"field":"v","type":"quantitative","scale":{"domain":[0,452],"nice":false,"zero":false},
"axis":{"values":[0,100,200,300,400],"labels":false,"title":"Glacier area [km²]","titleFontSize":30,"titleAngle":270,"titleAlign":"center","titleBaseline":"alphabetic","titleX":-84,"titleY":500}},"text":{"field":"s"}}},
{"data":{"values":[{"t":2019.8,"v":456.4,"s":"now"},{"t":2031.4,"v":456.4,"s":"near future"},{"t":2071.4,"v":458.5,"s":"far future"}]},
"mark":{"type":"text","fontSize":23,"align":"left","baseline":"alphabetic","angle":328},
"encoding":{"y":{"field":"v","type":"quantitative","scale":{"domain":[0,452],"nice":false,"zero":false},
"axis":{"values":[0,100,200,300,400],"labels":false,"title":"Glacier area [km²]","titleFontSize":30,"titleAngle":270,"titleAlign":"center","titleBaseline":"alphabetic","titleX":-84,"titleY":500}},"text":{"field":"s"}}},
{"data":{"values":[{"t":2103.9,"v":236.7,"s":"Rhine basin"}]},
"mark":{"type":"text","fontSize":26,"align":"center","baseline":"middle","angle":90},
"encoding":{"y":{"field":"v","type":"quantitative","scale":{"domain":[0,452],"nice":false,"zero":false},
"axis":{"values":[0,100,200,300,400],"labels":false,"title":"Glacier area [km²]","titleFontSize":30,"titleAngle":270,"titleAlign":"center","titleBaseline":"alphabetic","titleX":-84,"titleY":500}},"text":{"field":"s"}}}
],
"resolve":{"scale":{"color":"independent","strokeDash":"independent"}}
},
{
"width":685,"height":489,
"encoding":{"x":{"field":"t","type":"quantitative","scale":{"domain":[1975,2100],"nice":false,"zero":false},"axis":{"values":[1980,2000,2020,2040,2060,2080,2100],"title":null,"format":"d","labelBaseline":"alphabetic","labelPadding":32,"labelFlush":false,"labelOverlap":false}}},
"layer":[
{"data":{"name":"projBot"},"mark":{"type":"area","opacity":0.25},
"encoding":{"y":{"aggregate":"min","field":"v","type":"quantitative","scale":{"domain":[0,30],"nice":false,"zero":false},
"axis":{"values":[0,5,10,15,20,25,30],"labels":false,"title":null}},
"y2":{"aggregate":"max","field":"v"},
"color":{"field":"k","type":"nominal","scale":{"domain":["WL","Tr","Li","Ap","Hi"],"range":["#B4B4B4","#FF6A6A","#FFD700","#FF1493","#4876FF"]},"legend":null}}},
{"data":{"name":"vl"},"mark":{"type":"rule","strokeWidth":2.8,"strokeDash":[11,7]},
"encoding":{"color":{"field":"c","type":"nominal","scale":{"domain":["g","now","near","far"],"range":["#BEBEBE","#2E9E50","#9990CC","#F6A343"]},"legend":null}}},
{"data":{"name":"projBot"},"mark":{"type":"line","strokeWidth":1.2},
"encoding":{"y":{"field":"v","type":"quantitative","scale":{"domain":[0,30],"nice":false,"zero":false},
"axis":{"values":[0,5,10,15,20,25,30],"labels":false,"title":null}},
"detail":{"field":"m"},
"color":{"field":"k","type":"nominal","scale":{"domain":["WL","Tr","Li","Ap","Hi"],"range":["#B0B0B0","#FF6A6A","#FFD700","#FF1493","#4876FF"]},"legend":null}}},
{"data":{"name":"histBot"},"mark":{"type":"line","strokeWidth":2.6},
"encoding":{"y":{"field":"v","type":"quantitative","scale":{"domain":[0,30],"nice":false,"zero":false},
"axis":{"values":[0,5,10,15,20,25,30],"labels":false,"title":null}},
"color":{"field":"k","type":"nominal","scale":{"domain":["WL","Tr","Li","Ap","Hi"],"range":["#000000","#FF6A6A","#FFD700","#FF1493","#4876FF"]},"legend":null}}},
{"data":{"values":[{"t":1969.7,"v":0,"s":"0"},{"t":1969.7,"v":5,"s":"5"},{"t":1969.7,"v":10,"s":"10"},{"t":1969.7,"v":15,"s":"15"},{"t":1969.7,"v":20,"s":"20"},{"t":1969.7,"v":25,"s":"25"},{"t":1969.7,"v":30,"s":"30"}]},
"mark":{"type":"text","fontSize":28,"angle":270.1,"align":"center","baseline":"alphabetic"},
"encoding":{"y":{"field":"v","type":"quantitative","scale":{"domain":[0,30],"nice":false,"zero":false},
"axis":{"values":[0,5,10,15,20,25,30],"labels":false,"title":null}},"text":{"field":"s"}}},
{"data":{"values":[{"t":1988.2,"v":27.19,"s":"Weisse"},{"t":1988.1,"v":25.38,"s":"Luetschine"},{"t":1988.7,"v":20.02,"s":"Triftwasser"},{"t":1987.4,"v":15.92,"s":"Linth"},{"t":1987.5,"v":9.2,"s":"Hinterrhein"},{"t":1988.6,"v":3.52,"s":"Alpbach"}]},
"mark":{"type":"text","fontSize":23.5,"align":"center","baseline":"alphabetic"},
"encoding":{"y":{"field":"v","type":"quantitative","scale":{"domain":[0,30],"nice":false,"zero":false},
"axis":{"values":[0,5,10,15,20,25,30],"labels":false,"title":null}},"text":{"field":"s"}}},
{"data":{"values":[{"t":2103.9,"v":14.94,"s":"Glacierized headwaters"}]},
"mark":{"type":"text","fontSize":26,"align":"center","baseline":"middle","angle":90},
"encoding":{"y":{"field":"v","type":"quantitative","scale":{"domain":[0,30],"nice":false,"zero":false},
"axis":{"values":[0,5,10,15,20,25,30],"labels":false,"title":null}},"text":{"field":"s"}}}
],
"resolve":{"scale":{"color":"independent"}}
}
]
}
